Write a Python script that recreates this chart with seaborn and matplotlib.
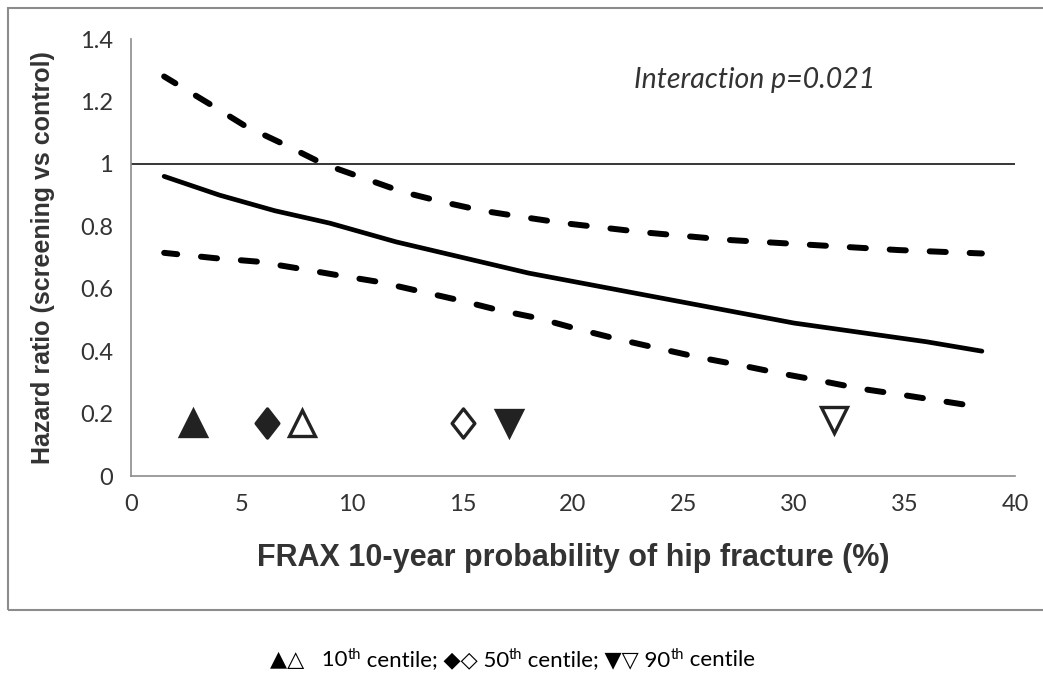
import numpy as np
import pandas as pd
import matplotlib
matplotlib.use("Agg")
import matplotlib.pyplot as plt
import seaborn as sns
from matplotlib.patches import Rectangle
from matplotlib.path import Path

sns.set_theme(style="white")
plt.rcParams["font.family"] = ["Lato", "DejaVu Sans"]

# hazard ratio curves
est_x = [1.5, 4, 6.5, 9, 12, 15, 18, 21, 24, 27, 30, 33, 36, 38.5]
est_hr = [0.96, 0.90, 0.85, 0.81, 0.75, 0.70, 0.65, 0.61, 0.57, 0.53, 0.49, 0.46, 0.43, 0.40]
upper_x = [1.5, 3.6, 5.2, 7.0, 8.7, 10.5, 12.3, 14.1, 15.9, 17.7, 19.6, 23.3, 27.1, 30.9, 34.7, 38.5]
upper_hr = [1.28, 1.19, 1.12, 1.06, 1.00, 0.955, 0.91, 0.878, 0.85, 0.83, 0.81, 0.78, 0.756, 0.74, 0.724, 0.713]
lower_x = [1.5, 3.8, 5.7, 7.5, 9.3, 11.2, 13.0, 14.8, 16.6, 18.4, 20.2, 22.0, 23.8, 25.7,
           27.5, 29.3, 31.2, 33.0, 34.9, 36.7, 38.5]
lower_hr = [0.715, 0.698, 0.687, 0.666, 0.644, 0.622, 0.593, 0.564, 0.532, 0.506, 0.471, 0.439,
            0.41, 0.38, 0.356, 0.33, 0.305, 0.28, 0.26, 0.24, 0.22]

# centile markers
centile_x = [2.8, 6.15, 7.75, 15.0, 17.1, 31.8]
centile_y = [0.17, 0.17, 0.17, 0.17, 0.17, 0.18]
centile_marker = ["^", "D", "^", "D", "v", "v"]
centile_filled = [True, True, False, False, True, False]

df = pd.concat([
    pd.DataFrame({"frax": est_x, "hr": est_hr, "curve": "est"}),
    pd.DataFrame({"frax": upper_x, "hr": upper_hr, "curve": "upper"}),
    pd.DataFrame({"frax": lower_x, "hr": lower_hr, "curve": "lower"}),
])

fig = plt.figure(figsize=(10.43, 6.73), dpi=100)
ax = fig.add_axes([0.1256, 0.2927, 0.8476, 0.6493])

# outer frame
fig.patches.append(Rectangle((8 / 1043, 1 - 610 / 673), 1.1, (610 - 8) / 673,
                             transform=fig.transFigure, fill=False,
                             edgecolor="#8c8c8c", lw=1.5, zorder=0))

ax.axhline(1, color="black", lw=1.1, zorder=1)

sns.lineplot(data=df[df.curve == "est"], x="frax", y="hr", color="black", lw=3.4,
             ax=ax, solid_capstyle="round")
for c in ["upper", "lower"]:
    sns.lineplot(data=df[df.curve == c], x="frax", y="hr", color="black", lw=4.3,
                 ax=ax, linestyle=(0.5, (2.7, 4.0)), dash_capstyle="round")

diamond = Path([(0, 1), (0.78, 0), (0, -1), (-0.78, 0), (0, 1)],
               [Path.MOVETO, Path.LINETO, Path.LINETO, Path.LINETO, Path.CLOSEPOLY])
for x, y, m, f in zip(centile_x, centile_y, centile_marker, centile_filled):
    col = "#222222" if f else "white"
    if m == "D":
        ax.plot([x], [y], marker=diamond, ms=21, mec="#222222", mew=2.4,
                mfc=col, ls="none")
    else:
        ax.plot([x], [y], marker=m, ms=19, mec="#222222", mew=2.4,
                mfc=col, ls="none")

ax.text(28.2, 1.27, "Interaction p=0.021", style="italic", fontsize=20.5,
        color="#333333", ha="center", va="center")

ax.set_xlim(0, 40)
ax.set_ylim(0, 1.4)
ax.set_xticks(range(0, 41, 5))
yt = np.arange(0, 1.41, 0.2).round(1)
ax.set_yticks(yt)
ax.set_yticklabels([f"{v:g}" for v in yt])
ax.tick_params(axis="both", labelsize=17, labelcolor="#333333", length=7, width=1,
               color="#8c8c8c", direction="out", pad=6)
ax.set_xlabel("FRAX 10-year probability of hip fracture (%)", fontsize=22,
              fontweight="bold", family="Liberation Sans", color="#333333", labelpad=20)
ax.set_ylabel("Hazard ratio (screening vs control)", fontsize=18,
              fontweight="bold", family="Liberation Sans", color="#333333", labelpad=18)
sns.despine(ax=ax)
for s in ["left", "bottom"]:
    ax.spines[s].set_color("#8c8c8c")
    ax.spines[s].set_linewidth(1.2)
ax.set_facecolor("white")

# footer with superscripts, built from chained texts
pieces = [" 10", "th", " centile; ◆◇ 50", "th", " centile; ▼▽ 90", "th", " centile"]
prev = fig.text(270 / 1043, 1 - 670 / 673, "▲△  ", fontsize=16, color="black",
                va="bottom", ha="left")
for i, txt in enumerate(pieces):
    sup = txt == "th"
    after_sup = i > 0 and pieces[i - 1] == "th"
    dy = 6 if sup else (-6 if after_sup else 0)
    prev = ax.annotate(txt, xy=(1, 0), xycoords=prev, xytext=(0, dy),
                       textcoords="offset points", fontsize=10.5 if sup else 16,
                       va="bottom", ha="left", color="black", annotation_clip=False)

fig.savefig("out.png", dpi=100, facecolor="white")
